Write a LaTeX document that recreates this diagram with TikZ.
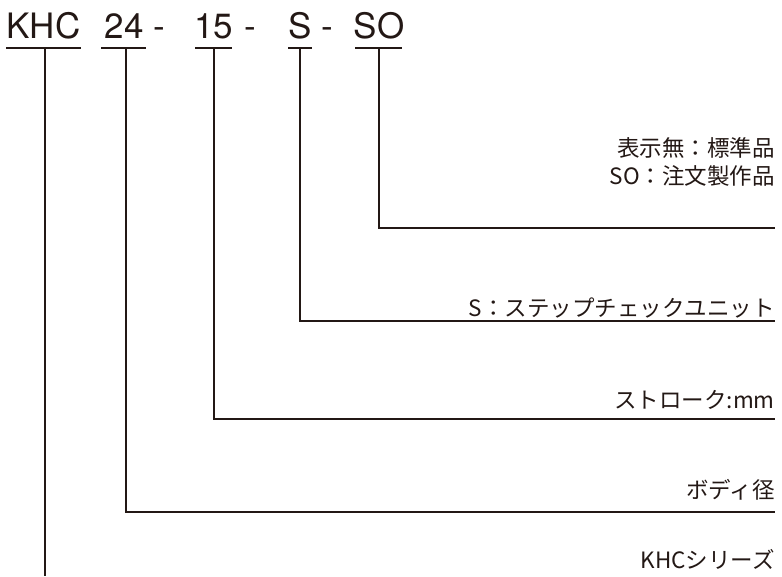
\documentclass[tikz,border=0pt]{standalone}
\usepackage{fontspec}
\setmainfont{Noto Sans CJK JP}
\newfontfamily\titlefont{TeX Gyre Heros}
\definecolor{ink}{HTML}{231815}
\begin{document}
\begin{tikzpicture}[x=1pt,y=-1pt,
  ttl/.style={font=\titlefont\fontsize{35}{35}\selectfont, text=ink, anchor=base, inner sep=0pt},
  lbl/.style={font=\fontsize{22.5}{28}\selectfont, text=ink, anchor=base east, inner sep=0pt, align=right},
  uline/.style={draw=ink, line width=2.2pt},
  lead/.style={draw=ink, line width=1.1pt}]
\useasboundingbox (0,0) rectangle (782,576);
% title parts
\node[ttl] (tK) at (43.5,38) {KHC};
\node[ttl] (t24) at (124,38) {24};
\node[ttl] (d1) at (159.5,38) {-};
\node[ttl] (t15) at (213.5,38) {15};
\node[ttl] (d2) at (250,38) {-};
\node[ttl] (tS) at (300,38) {S};
\node[ttl] (d3) at (327,38) {-};
\node[ttl] (tSO) at (379,38) {SO};
% underlines
\draw[uline] (6,48) -- (81,48);
\draw[uline] (101,48) -- (146,48);
\draw[uline] (195,48) -- (232,48);
\draw[uline] (288,48) -- (312,48);
\draw[uline] (355,48) -- (402,48);
% coordinates
\coordinate (uK) at (45,48);
\coordinate (u24) at (126,48);
\coordinate (u15) at (214,48);
\coordinate (uS) at (300,48);
\coordinate (uSO) at (379,48);
\coordinate (eK) at (45,576);
\coordinate (eSO) at (775,228);
\coordinate (eS) at (775,321);
\coordinate (e15) at (775,419);
\coordinate (e24) at (775,512);
% leaders
\draw[lead] (uSO) |- (eSO);
\draw[lead] (uS) |- (eS);
\draw[lead] (u15) |- (e15);
\draw[lead] (u24) |- (e24);
\draw[lead] (uK) -- (eK);
% labels
\node[lbl] (lSO) at (775,184) {表示無：標準品\\SO：注文製作品};
\node[lbl] (lS) at (775,316) {S：ステップチェックユニット};
\node[lbl] (l15) at (775,408) {ストローク:mm};
\node[lbl] (l24) at (775,498) {ボディ径};
\node[lbl] (lK) at (775,568) {KHCシリーズ};
\end{tikzpicture}
\end{document}
